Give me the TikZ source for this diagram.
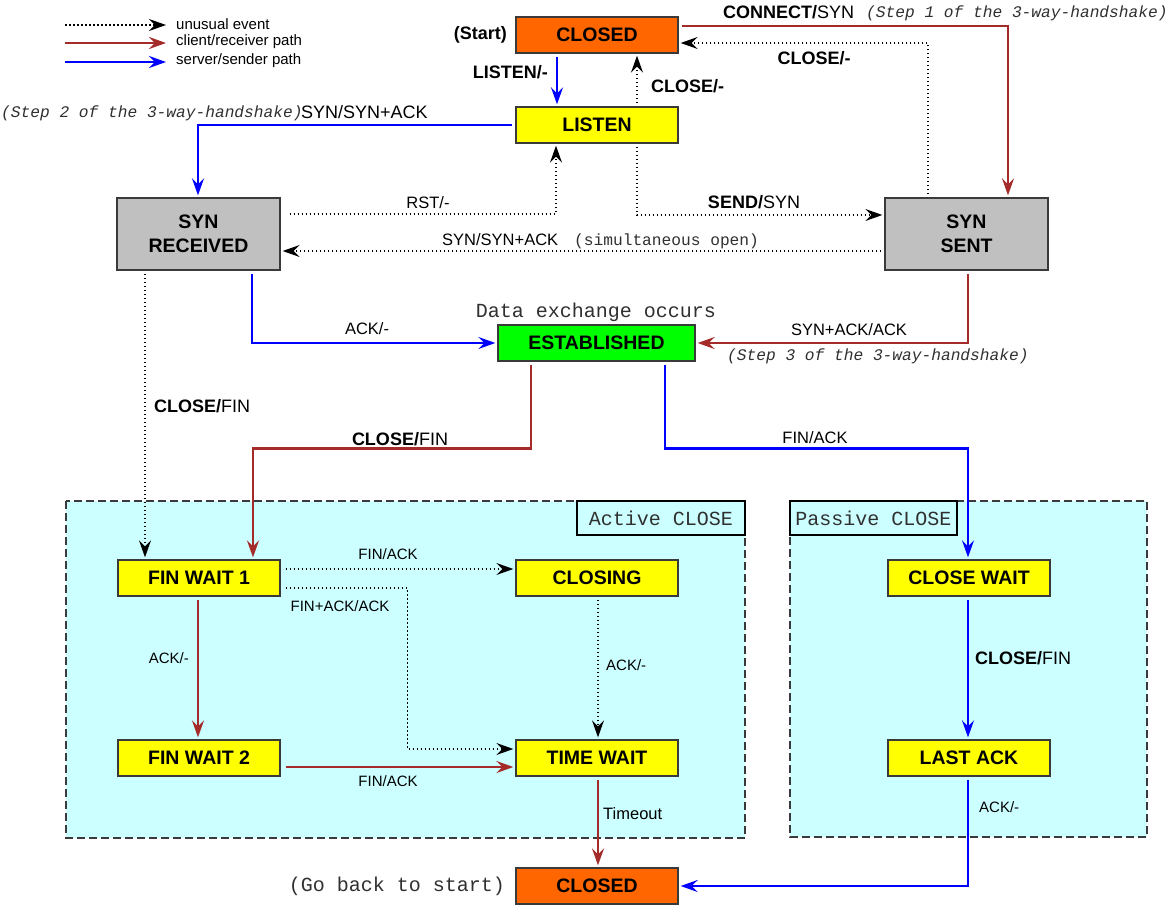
\documentclass[tikz,border=0pt]{standalone}
\usepackage{fontspec}
\setmainfont{Liberation Sans}
\setmonofont{Liberation Mono}
\usetikzlibrary{arrows.meta}
\definecolor{brn}{HTML}{A52A2A}
\definecolor{blu}{HTML}{0000FF}
\definecolor{orng}{HTML}{FF6600}
\definecolor{yel}{HTML}{FFFF00}
\definecolor{gry}{HTML}{C0C0C0}
\definecolor{grn}{HTML}{00FF00}
\definecolor{cyn}{HTML}{CCFFFF}
\definecolor{edge}{HTML}{3A3A3A}
\definecolor{mono}{HTML}{303030}
\newcommand\myfs[1]{\fontsize{#1}{#1}\selectfont}
\tikzset{
  state/.style={draw=edge, line width=1.3pt, minimum height=36pt, minimum width=162pt,
    inner sep=0pt, align=center, font=\myfs{19.5}\bfseries},
  arrtip/.style={-{Stealth[length=17pt,width=12pt,inset=6pt]}},
  cpath/.style={draw=brn, line width=2.6pt, arrtip, shorten >=2pt, shorten <=3pt},
  spath/.style={draw=blu, line width=2.6pt, arrtip, shorten >=2pt, shorten <=3pt},
  upath/.style={draw=black, line width=1.5pt, dash pattern=on 1.5pt off 2.5pt, arrtip, shorten >=2pt, shorten <=3pt},
  lblm/.style={inner sep=0pt, font=\myfs{16.5}},
  lbls/.style={inner sep=0pt, font=\myfs{15}},
  lblb/.style={inner sep=0pt, font=\myfs{18}},
  monol/.style={inner sep=0pt, text=mono, font=\ttfamily\myfs{20}},
  monos/.style={inner sep=0pt, text=mono, font=\ttfamily\myfs{16.2}},
  monoi/.style={inner sep=0pt, text=mono, font=\ttfamily\itshape\myfs{16.2}},
  cluster/.style={draw=edge, line width=1.1pt, dash pattern=on 8pt off 4pt, fill=cyn},
  clabel/.style={draw=black, line width=1.1pt, fill=cyn, inner sep=0pt, minimum height=34pt, font=\ttfamily\myfs{20}, text=mono}
}
\begin{document}
\begin{tikzpicture}[x=1pt,y=-1pt]
\useasboundingbox (0,0) rectangle (1170,905);
\fill[white] (0,0) rectangle (1170,905);

% clusters
\path[cluster] (66,501) rectangle (745,838);
\path[cluster] (790,501) rectangle (1147,837);
\node[clabel, minimum width=168pt] (actl) at (661,518) {Active CLOSE};
\node[clabel, minimum width=167pt] (pasl) at (873.5,518) {Passive CLOSE};

% legend
\coordinate (lg1a) at (65,25); \coordinate (lg1b) at (166,25);
\coordinate (lg2a) at (65,43); \coordinate (lg2b) at (166,43);
\coordinate (lg3a) at (65,62); \coordinate (lg3b) at (166,62);
\draw[upath, shorten <=0pt, shorten >=0pt] (lg1a) -- (lg1b);
\draw[cpath, shorten <=0pt, shorten >=0pt] (lg2a) -- (lg2b);
\draw[spath, shorten <=0pt, shorten >=0pt] (lg3a) -- (lg3b);
\node[lbls, anchor=west] (lgt1) at (176,24) {unusual event};
\node[lbls, anchor=west] (lgt2) at (176,42) {client/receiver path};
\node[lbls, anchor=west] (lgt3) at (176,61) {server/sender path};

% states
\node[state, fill=orng] (cl1) at (597,35) {CLOSED};
\node[state, fill=yel] (lst) at (597,125) {LISTEN};
\node[state, fill=gry, minimum width=163pt, minimum height=72pt] (synr) at (198.5,234) {SYN\\[4pt]RECEIVED};
\node[state, fill=gry, minimum width=163pt, minimum height=72pt] (syns) at (966.5,234) {SYN\\[4pt]SENT};
\node[state, fill=grn, minimum width=197pt] (est) at (596.5,343) {ESTABLISHED};
\node[state, fill=yel] (fw1) at (199,578) {FIN WAIT 1};
\node[state, fill=yel] (clsg) at (597,578) {CLOSING};
\node[state, fill=yel] (fw2) at (199,758) {FIN WAIT 2};
\node[state, fill=yel] (tw) at (597,758) {TIME WAIT};
\node[state, fill=yel] (cw) at (969,578) {CLOSE WAIT};
\node[state, fill=yel] (la) at (969,758) {LAST ACK};
\node[state, fill=orng] (cl2) at (597,886) {CLOSED};

% connectors
\draw[cpath] ([yshift=9pt]cl1.east) -| ([xshift=41.5pt]syns.north);
\draw[upath] ([xshift=-38.5pt]syns.north) |- ([yshift=-8pt]cl1.east);
\draw[spath] ([xshift=-40pt]cl1.south) -- ([xshift=-40pt]lst.north);
\draw[upath] ([xshift=40pt]lst.north) -- ([xshift=40pt]cl1.south);
\draw[spath] (lst.west) -| ([xshift=-0.5pt]synr.north);
\draw[upath, shorten <=9pt] ([yshift=20pt]synr.east) -| ([xshift=-41pt]lst.south);
\draw[upath] ([xshift=40pt]lst.south) |- ([yshift=19pt]syns.west);
\draw[upath] ([yshift=-17pt]syns.west) -- ([yshift=-17pt]synr.east);
\draw[spath] ([xshift=53.5pt]synr.south) |- (est.west);
\draw[cpath] ([xshift=1.5pt]syns.south) |- (est.east);
\draw[upath] ([xshift=-53.5pt]synr.south) -- ([xshift=-54pt]fw1.north);
\draw[cpath] ([xshift=-65.5pt]est.south) -- ++(0,87) -| ([xshift=54pt]fw1.north);
\draw[spath] ([xshift=68.5pt]est.south) -- ++(0,87) -| ([xshift=-1pt]cw.north);
\draw[upath, shorten <=5pt] ([yshift=9pt]fw1.east) -- ([yshift=9pt]clsg.west);
\draw[upath, shorten <=5pt] ([yshift=-10pt]fw1.east) -- ++(127,0) |- ([yshift=9pt]tw.west);
\draw[upath] ([xshift=1pt]clsg.south) -- ([xshift=1pt]tw.north);
\draw[cpath] ([xshift=-1pt]fw1.south) -- ([xshift=-1pt]fw2.north);
\draw[cpath, shorten <=5pt] ([yshift=-9pt]fw2.east) -- ([yshift=-9pt]tw.west);
\draw[cpath] ([xshift=1pt]tw.south) -- ([xshift=1pt]cl2.north);
\draw[spath] ([xshift=-1pt]cw.south) -- ([xshift=-1pt]la.north);
\draw[spath] ([xshift=-1pt]la.south) |- (cl2.east);

% labels
\node[lblb, anchor=west] (t1) at (723,12) {\textbf{CONNECT/}SYN};
\node[monoi, anchor=west] (t1s) at (866,13) {(Step 1 of the 3-way-handshake)};
\node[lblb] (t2) at (814,58) {\textbf{CLOSE/-}};
\node[lblb, anchor=east] (t3) at (548,72) {\textbf{LISTEN/-}};
\node[lblb, anchor=west] (t4) at (651,86) {\textbf{CLOSE/-}};
\node[lblb, anchor=east] (t5) at (507,35) {\textbf{(Start)}};
\node[monoi, anchor=west] (t6s) at (1,113) {(Step 2 of the 3-way-handshake)};
\node[lblb, anchor=west] (t6) at (301,112) {SYN/SYN+ACK};
\node[lblm] (t7) at (428,203) {RST/-};
\node[lblb] (t8) at (754,202) {\textbf{SEND/}SYN};
\node[lblm, anchor=west] (t9) at (442,240) {SYN/SYN+ACK};
\node[monos, anchor=west] (t9s) at (574,241) {(simultaneous open)};
\node[lblm] (t10) at (367,329) {ACK/-};
\node[monol] (t11) at (596,312) {Data exchange occurs};
\node[lblm] (t12) at (849,330) {SYN+ACK/ACK};
\node[monoi, anchor=west] (t12s) at (727,356) {(Step 3 of the 3-way-handshake)};
\node[lblb, anchor=west] (t13) at (154,406) {\textbf{CLOSE/}FIN};
\node[lblb] (t14) at (400,439) {\textbf{CLOSE/}FIN};
\node[lblm] (t15) at (815,438) {FIN/ACK};
\node[lbls] (t16) at (388,554) {FIN/ACK};
\node[lbls] (t17) at (340,606) {FIN+ACK/ACK};
\node[lbls, anchor=west] (t18) at (606,665) {ACK/-};
\node[lbls, anchor=east] (t19) at (189,658) {ACK/-};
\node[lbls] (t20) at (388,781) {FIN/ACK};
\node[lblm, anchor=west] (t21) at (603,814) {Timeout};
\node[lblb, anchor=west] (t22) at (975,658) {\textbf{CLOSE/}FIN};
\node[lbls, anchor=west] (t23) at (979,807) {ACK/-};
\node[monol, anchor=east] (t24) at (505,886) {(Go back to start)};
\end{tikzpicture}
\end{document}
